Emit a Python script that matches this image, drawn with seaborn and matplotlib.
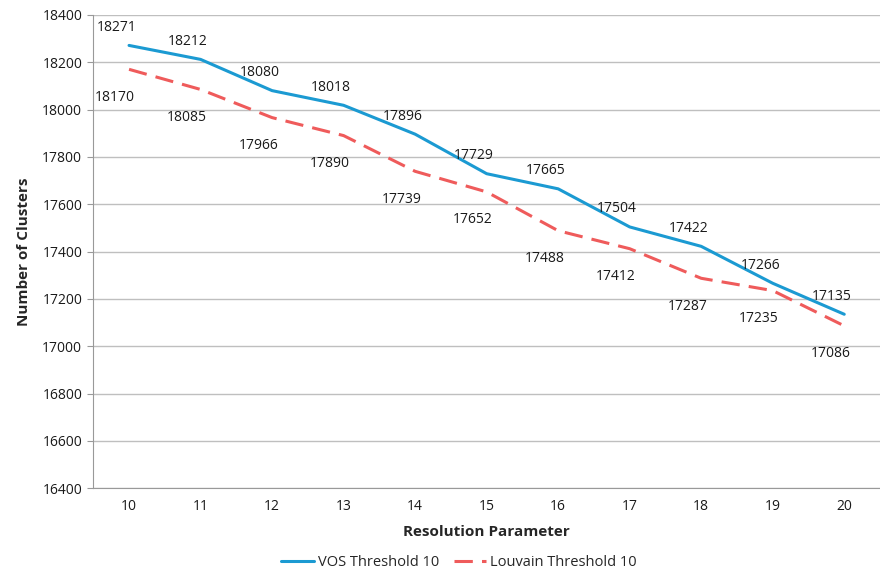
import pandas as pd
import seaborn as sns
import matplotlib.pyplot as plt

sns.set_style("white")
plt.rcParams['font.family'] = ['Open Sans', 'DejaVu Sans']

resolution = [10, 11, 12, 13, 14, 15, 16, 17, 18, 19, 20]
vos_clusters = [18271, 18212, 18080, 18018, 17896, 17729, 17665, 17504, 17422, 17266, 17135]
louvain_clusters = [18170, 18085, 17966, 17890, 17739, 17652, 17488, 17412, 17287, 17235, 17086]
y_ticks = list(range(16400, 18401, 200))

df = pd.DataFrame({
    'Resolution': [str(r) for r in resolution] * 2,
    'Clusters': vos_clusters + louvain_clusters,
    'Series': ['VOS Threshold 10'] * len(resolution) + ['Louvain Threshold 10'] * len(resolution),
})

fig = plt.figure(figsize=(8.8, 5.73), dpi=100)
ax = fig.add_axes([0.106, 0.148, 0.894, 0.826])

palette = {'VOS Threshold 10': '#1b9ad2', 'Louvain Threshold 10': '#ef5b5b'}
sns.lineplot(data=df, x='Resolution', y='Clusters', hue='Series', style='Series',
             palette=palette, dashes={'VOS Threshold 10': '', 'Louvain Threshold 10': (6, 3)},
             linewidth=2.2, ax=ax, sort=False)

for i, (v, l) in enumerate(zip(vos_clusters, louvain_clusters)):
    ax.annotate(str(v), (i, v), xytext=(-9, 13), textcoords='offset points',
                ha='center', va='center', fontsize=10, color='#1a1a1a')
    ax.annotate(str(l), (i, l), xytext=(-10, -20), textcoords='offset points',
                ha='center', va='center', fontsize=10, color='#1a1a1a')

ax.set_xlim(-0.5, len(resolution) - 0.5)
ax.set_ylim(16400, 18400)
ax.set_yticks(y_ticks)
ax.set_yticklabels([str(t) for t in y_ticks], fontsize=10, color='#1a1a1a')
ax.tick_params(axis='x', labelsize=10, labelcolor='#1a1a1a', length=0, pad=8)
ax.tick_params(axis='y', length=4, color='#999999', direction='out', left=True, pad=4)
ax.grid(axis='y', color='#bfbfbf', linewidth=1)
for s in ['top', 'right']:
    ax.spines[s].set_visible(False)
for s in ['left', 'bottom']:
    ax.spines[s].set_color('#999999')

ax.set_xlabel('Resolution Parameter', fontsize=11, fontweight='bold', labelpad=8)
ax.set_ylabel('Number of Clusters', fontsize=11, fontweight='bold', labelpad=8)

ax.legend(title=None, loc='lower center', bbox_to_anchor=(0.465, -0.2), ncol=2,
          frameon=False, fontsize=10.5, handlelength=2.2, handletextpad=0.3,
          columnspacing=1.0)

plt.savefig('out.png', dpi=100)
plt.close()
